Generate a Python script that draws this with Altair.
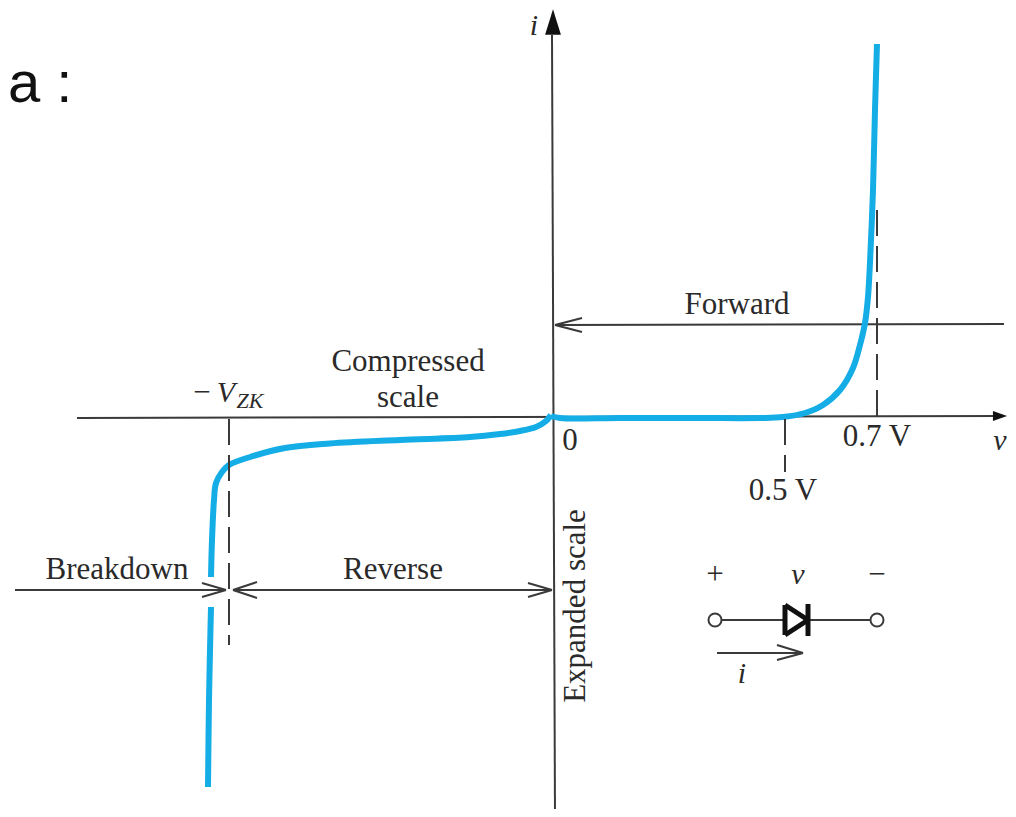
import altair as alt
import pandas as pd

# Values are read from the picture, in the figure's own schematic units
# (the diode plot mixes expanded and compressed scales, so it has no single numeric axis).
curve_forward_x = [551, 560, 620, 700, 760, 783, 805, 823, 840, 853, 860, 865, 868, 871, 873, 875, 877]
curve_forward_y = [416, 418, 418, 418, 418, 417, 413, 405, 390, 368, 345, 323, 297, 240, 190, 110, 44]
curve_reverse_x = [551, 546, 536, 520, 500, 470, 400, 330, 285, 250, 229, 222, 216, 214, 212, 211]
curve_reverse_y = [415, 421, 427, 431, 434, 437, 440, 443.5, 448, 457, 465, 472, 483, 500, 540, 577]
curve_break_x = [211, 210, 209, 208]
curve_break_y = [607, 650, 700, 787]

solid_x = [77, 552, 555, 582, 582, 15, 202, 202, 552, 257, 257, 528, 528, 717, 777, 777, 715, 808]
solid_y = [418, 35, 325, 318, 332, 590, 583, 597, 590, 582, 598, 583, 597, 653, 645, 660, 620, 620]
solid_x2 = [1003, 555, 1004, 555, 555, 226, 226, 226, 233, 233, 233, 552, 552, 803, 803, 803, 785, 877]
solid_y2 = [416, 817, 324, 325, 325, 590, 590, 590, 590, 590, 590, 590, 590, 653, 653, 653, 620, 620]

dash_x = [229, 785, 877]
dash_y = [419, 419, 210]
dash_y2 = [645, 472, 419]

# Diode symbol
diode_x = [785, 785, 808, 808]
diode_y = [605, 635, 620, 604]
diode_x2 = [785, 808, 785, 808]
diode_y2 = [635, 620, 605, 636]

terminal_x = [715, 877]
terminal_y = [620, 620]

roman_labels = ["Compressed", "scale", "Forward", "Reverse", "Breakdown", "0", "0.7  V", "0.5  V", "+", "−", "−"]
roman_x = [408, 408, 737, 393, 117, 570, 877, 783, 715, 877, 202]
roman_y = [371, 407, 314, 579, 579, 450, 446, 500, 584, 584, 402]

italic_labels = ["i", "V", "v", "i", "v"]
italic_x = [534, 226, 798, 742, 1000]
italic_y = [35, 402, 584, 683, 450]

x_scale = alt.Scale(domain=[8, 1008], nice=False, zero=False)
y_scale = alt.Scale(domain=[809, 8], nice=False, zero=False)
X = alt.X("x:Q", scale=x_scale, axis=None)
Y = alt.Y("y:Q", scale=y_scale, axis=None)

INK = "#3a3a3a"
BLUE = "#14ADE6"
SERIF = "Liberation Serif"


def segs(xs, ys, x2s, y2s):
    return pd.DataFrame({"x": xs, "y": ys, "x2": x2s, "y2": y2s})


def rules(df, **kw):
    return alt.Chart(df).mark_rule(**kw).encode(x=X, y=Y, x2="x2:Q", y2="y2:Q")


def texts(labels, xs, ys, **kw):
    df = pd.DataFrame({"x": xs, "y": ys, "t": labels})
    return alt.Chart(df).mark_text(baseline="alphabetic", **kw).encode(x=X, y=Y, text="t:N")


curve = pd.DataFrame({
    "x": curve_forward_x + curve_reverse_x + curve_break_x,
    "y": curve_forward_y + curve_reverse_y + curve_break_y,
    "branch": ["forward"] * len(curve_forward_x) + ["reverse"] * len(curve_reverse_x) + ["breakdown"] * len(curve_break_x),
    "n": list(range(len(curve_forward_x))) + list(range(len(curve_reverse_x))) + list(range(len(curve_break_x))),
})

solid = rules(segs(solid_x, solid_y, solid_x2, solid_y2), color=INK, strokeWidth=2)
line = alt.Chart(curve).mark_line(color=BLUE, strokeWidth=6, interpolate="catmull-rom").encode(
    x=X, y=Y, detail="branch:N", order="n:Q"
)
dashes = rules(
    pd.DataFrame({"x": dash_x, "y": dash_y, "x2": dash_x, "y2": dash_y2}),
    color=INK, strokeWidth=2, strokeDash=[26, 10],
)
diode = rules(segs(diode_x, diode_y, diode_x2, diode_y2), color="#111111", strokeWidth=5)
terminals = alt.Chart(pd.DataFrame({"x": terminal_x, "y": terminal_y})).mark_point(
    shape="circle", size=170, filled=True, fill="white", stroke=INK, strokeWidth=2, opacity=1
).encode(x=X, y=Y)

head_up = alt.Chart(pd.DataFrame({"x": [553], "y": [22]})).mark_point(
    shape="M0,-1L0.62,1L-0.62,1Z", size=650, filled=True, color="#111111", opacity=1
).encode(x=X, y=Y)
head_right = alt.Chart(pd.DataFrame({"x": [1000], "y": [416]})).mark_point(
    shape="M1,0L-1,0.7L-1,-0.7Z", size=200, filled=True, color="#111111", opacity=1
).encode(x=X, y=Y)

roman = texts(roman_labels, roman_x, roman_y, font=SERIF, fontSize=31, color="#2a2a2a", align="center")
italic = texts(italic_labels, italic_x, italic_y, font=SERIF, fontSize=30, fontStyle="italic", color="#2a2a2a", align="center")
subscript = texts(["ZK"], [250], [408], font=SERIF, fontSize=22, fontStyle="italic", color="#2a2a2a", align="center")
vertical = texts(["Expanded scale"], [585], [606], font=SERIF, fontSize=31, color="#2a2a2a", align="center", angle=270)
corner = texts(["a :"], [8], [102], font="Liberation Sans", fontSize=58, color="#111111", align="left")

chart = alt.layer(
    solid, line, dashes, diode, terminals, head_up, head_right,
    roman, italic, subscript, vertical, corner,
).properties(
    width=1000, height=801, padding=0, background="white",
    autosize=alt.AutoSizeParams(type="none"),
).configure_view(stroke=None)

chart.save("out.html", embed_options={"renderer": "svg", "actions": False})
